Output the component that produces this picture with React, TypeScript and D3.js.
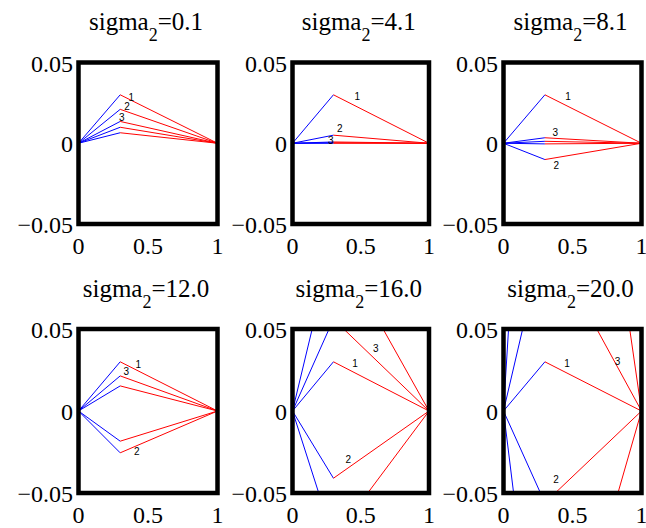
import React from "react";
import * as d3 from "d3";

// ---- data ----
const sigmaLabels = ["0.1", "4.1", "8.1", "12.0", "16.0", "20.0"];
// mode amplitude at the interior node x = 0.3 (modes 1..5)
const nodeX = [0, 0.3, 1];
const modeAmp1 = [0.030, 0.021, 0.0135, 0.0099, 0.0065];
const modeAmp2 = [0.030, 0.005, 0.0008, 0.0003, 0.0];
const modeAmp3 = [0.030, -0.0101, 0.0034, 0.0012, -0.0004];
const modeAmp4 = [0.030, -0.0255, 0.0214, 0.0153, -0.0184];
const modeAmp5 = [0.030, -0.041, 0.056, 0.104, -0.078];
const modeAmp6 = [0.030, -0.056, 0.108, 0.41, -0.205];
const modeAmps = [modeAmp1, modeAmp2, modeAmp3, modeAmp4, modeAmp5, modeAmp6];
// label anchor points for modes 1,2,3 in data units
const labelPos1: [number, number][] = [[0.38, 0.0283], [0.35, 0.0226], [0.312, 0.0162]];
const labelPos2: [number, number][] = [[0.475, 0.0287], [0.346, 0.0089], [0.28, 0.0014]];
const labelPos3: [number, number][] = [[0.468, 0.0287], [0.383, -0.0138], [0.375, 0.0068]];
const labelPos4: [number, number][] = [[0.43, 0.0283], [0.42, -0.0247], [0.344, 0.0239]];
const labelPos5: [number, number][] = [[0.459, 0.029], [0.408, -0.0298], [0.61, 0.038]];
const labelPos6: [number, number][] = [[0.46, 0.029], [0.38, -0.0415], [0.827, 0.030]];
const labelPositions = [labelPos1, labelPos2, labelPos3, labelPos4, labelPos5, labelPos6];
const xTicks = [0, 0.5, 1];
const xTickLabels = ["0", "0.5", "1"];
const yTicks = [-0.05, 0, 0.05];
const yTickLabels = ["\u22120.05", "0", "0.05"];

// ---- layout ----
const W = 646;
const H = 528;
const colX: [number, number][] = [[78.5, 217.5], [292.5, 429], [503.5, 641.5]];
const rowY: [number, number][] = [[62.5, 224], [329, 493]];
const serif = "'Liberation Serif', 'Times New Roman', serif";
const sans = "'Liberation Sans', Arial, sans-serif";

function Panel({ idx }: { idx: number }) {
  const col = idx % 3;
  const row = Math.floor(idx / 3);
  const [x0, x1] = colX[col];
  const [y0, y1] = rowY[row];
  const xs = d3.scaleLinear().domain([0, 1]).range([x0, x1]);
  const ys = d3.scaleLinear().domain([-0.05, 0.05]).range([y1, y0]);
  const line = d3
    .line<[number, number]>()
    .x((d) => xs(d[0]))
    .y((d) => ys(d[1]));
  const clipId = `clip${idx}`;
  const amps = modeAmps[idx];
  return (
    <g>
      <defs>
        <clipPath id={clipId}>
          <rect x={x0} y={y0} width={x1 - x0} height={y1 - y0} />
        </clipPath>
      </defs>
      <g clipPath={`url(#${clipId})`}>
        {amps.map((a, i) => (
          <g key={i}>
            <path
              d={line([[nodeX[0], 0], [nodeX[1], a]]) || ""}
              fill="none"
              stroke="#0000ff"
              strokeWidth={1}
            />
            <path
              d={line([[nodeX[1], a], [nodeX[2], 0]]) || ""}
              fill="none"
              stroke="#ff0000"
              strokeWidth={1}
            />
          </g>
        ))}
      </g>
      {labelPositions[idx].map((p, i) => (
        <text
          key={i}
          x={xs(p[0])}
          y={ys(p[1]) + 3.5}
          textAnchor="middle"
          fontFamily={sans}
          fontSize={10}
          fill="#000"
        >
          {i + 1}
        </text>
      ))}
      <rect
        x={x0}
        y={y0}
        width={x1 - x0}
        height={y1 - y0}
        fill="none"
        stroke="#000"
        strokeWidth={4.5}
      />
      {xTicks.map((t, i) => (
        <text
          key={"x" + i}
          x={xs(t)}
          y={y1 + 30}
          textAnchor="middle"
          fontFamily={serif}
          fontSize={24}
        >
          {xTickLabels[i]}
        </text>
      ))}
      {yTicks.map((t, i) => (
        <text
          key={"y" + i}
          x={x0 - 5.5}
          y={ys(t) + 9}
          textAnchor="end"
          fontFamily={serif}
          fontSize={24}
        >
          {yTickLabels[i]}
        </text>
      ))}
      <text
        x={(x0 + x1) / 2 - 2}
        y={y0 - 32.5}
        textAnchor="middle"
        fontFamily={serif}
        fontSize={25}
      >
        sigma
        <tspan dy={11} fontSize={18}>2</tspan>
        <tspan dy={-11}>={sigmaLabels[idx]}</tspan>
      </text>
    </g>
  );
}

export default function App() {
  return (
    <svg width={W} height={H} style={{ position: "absolute", left: 0, top: 0, background: "#fff" }}>
      <rect x={0} y={0} width={W} height={H} fill="#fff" />
      {sigmaLabels.map((_, i) => (
        <Panel key={i} idx={i} />
      ))}
    </svg>
  );
}
